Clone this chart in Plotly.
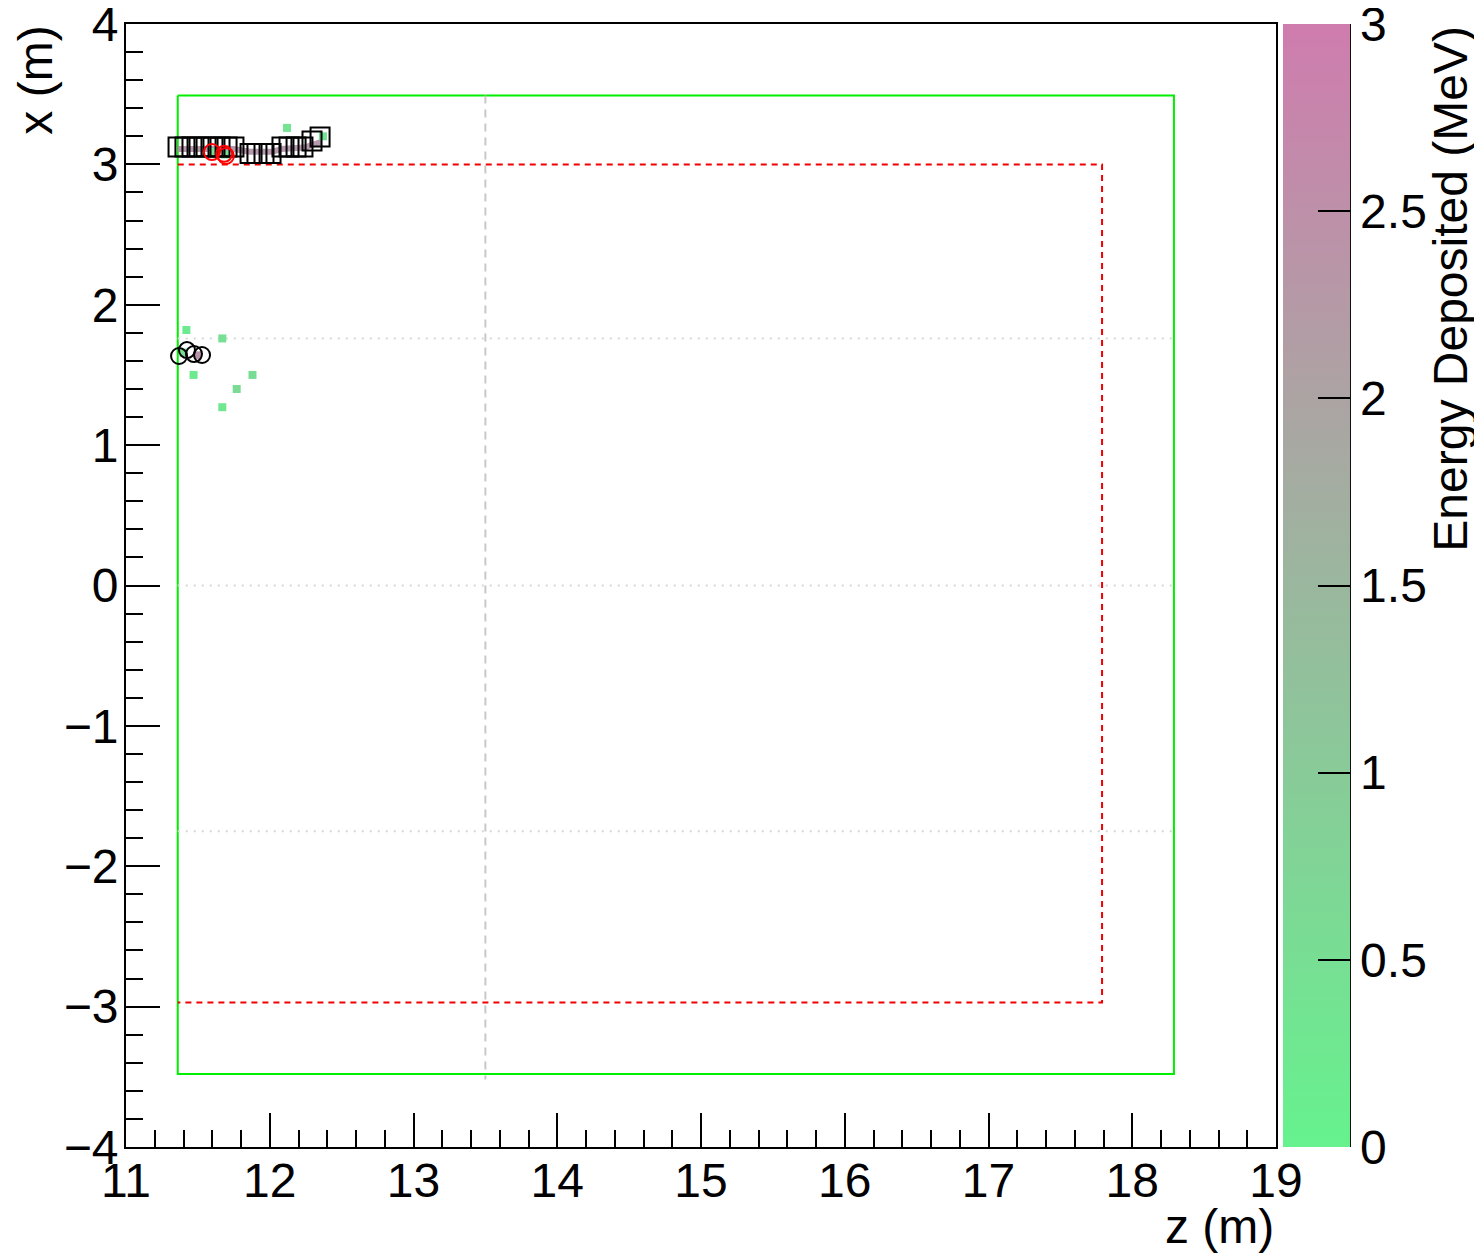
import plotly.graph_objects as go

# ---- data (z, x in metres) ----
green_box_z = [11.36, 18.29, 18.29, 11.36, 11.36]
green_box_x = [3.49, 3.49, -3.48, -3.48, 3.49]
red_box_z = [11.36, 17.79, 17.79, 11.36]
red_box_x = [3.0, 3.0, -2.97, -2.97]
gray_vline_z = [13.5, 13.5]
gray_vline_x = [3.49, -3.52]
gray_hline_z = [11.36, 18.29]
gray_hline_x = [1.76, 0.0, -1.75]

track_z = [11.36, 11.75, 11.86, 12.02, 12.08, 12.24, 12.36]
track_x = [3.11, 3.11, 3.09, 3.09, 3.11, 3.12, 3.16]

hit_z = [12.12, 12.37, 11.42, 11.67, 11.47, 11.88, 11.77, 11.67, 11.60, 11.69, 11.40, 11.50]
hit_x = [3.26, 3.20, 1.82, 1.76, 1.50, 1.50, 1.40, 1.27, 3.09, 3.07, 1.66, 1.64]
hit_e = [0.35, 0.4, 0.2, 0.45, 0.2, 0.55, 0.6, 0.3, 0.5, 0.45, 0.6, 2.4]

square_z = [11.362, 11.410, 11.459, 11.508, 11.557, 11.605, 11.654, 11.703, 11.751,
            11.863, 11.911, 11.960, 12.009,
            12.085, 12.134, 12.183, 12.231, 12.294, 12.350]
square_x = [3.124] * 9 + [3.077] * 4 + [3.124] * 4 + [3.167, 3.195]

black_circle_z = [11.369, 11.424, 11.473, 11.529]
black_circle_x = [1.635, 1.677, 1.649, 1.642]
red_circle_z = [11.598, 11.683, 11.695]
red_circle_x = [3.088, 3.075, 3.060]

cbar_ticks = [0, 0.5, 1, 1.5, 2, 2.5, 3]
xticks = list(range(11, 20))
yticks = list(range(-4, 5))

FONT = "Liberation Sans"
FS = 48
colorscale = [[0.0, "rgb(102,242,142)"], [1.0, "rgb(207,124,174)"]]

fig = go.Figure()

fig.add_trace(go.Scatter(x=green_box_z, y=green_box_x, mode="lines",
                         line=dict(color="rgb(0,238,0)", width=2), hoverinfo="skip"))
fig.add_trace(go.Scatter(x=red_box_z, y=red_box_x, mode="lines",
                         line=dict(color="rgb(240,0,0)", width=2, dash="6px,5px"), hoverinfo="skip"))
fig.add_trace(go.Scatter(x=gray_vline_z, y=gray_vline_x, mode="lines",
                         line=dict(color="rgb(200,200,200)", width=2, dash="8px,6px"), hoverinfo="skip"))
for hx in gray_hline_x:
    fig.add_trace(go.Scatter(x=gray_hline_z, y=[hx, hx], mode="lines",
                             line=dict(color="rgb(215,215,215)", width=2, dash="2px,6px"), hoverinfo="skip"))

fig.add_trace(go.Scatter(x=track_z, y=track_x, mode="lines",
                         line=dict(color="rgba(170,135,160,0.85)", width=6), hoverinfo="skip"))

fig.add_trace(go.Scatter(
    x=hit_z, y=hit_x, mode="markers",
    marker=dict(symbol="square", size=8, color=hit_e, cmin=0, cmax=3,
                colorscale=colorscale, line=dict(width=0),
                colorbar=dict(
                    x=1.006, xanchor="left", xref="paper", xpad=0, ypad=0,
                    y=0, yanchor="bottom", len=1, lenmode="fraction",
                    thickness=67, thicknessmode="pixels", outlinewidth=0,
                    tickvals=cbar_ticks, ticktext=[str(t) for t in cbar_ticks],
                    ticks="inside", ticklen=32, tickwidth=2, tickcolor="black",
                    ticklabeloverflow="allow",
                    tickfont=dict(family=FONT, size=FS, color="black"))),
    hoverinfo="skip"))

fig.add_trace(go.Scatter(x=square_z, y=square_x, mode="markers",
                         marker=dict(symbol="square-open", size=19, color="black",
                                     line=dict(width=2, color="black")), hoverinfo="skip"))
fig.add_trace(go.Scatter(x=black_circle_z, y=black_circle_x, mode="markers",
                         marker=dict(symbol="circle-open", size=16, color="black",
                                     line=dict(width=2, color="black")), hoverinfo="skip"))
fig.add_trace(go.Scatter(x=red_circle_z, y=red_circle_x, mode="markers",
                         marker=dict(symbol="circle-open", size=16, color="red",
                                     line=dict(width=2, color="red")), hoverinfo="skip"))

axis_common = dict(showgrid=False, zeroline=False, showline=True, linecolor="black",
                   linewidth=2, mirror=True, ticks="inside", tickwidth=2, tickcolor="black",
                   automargin=False, ticklabeloverflow="allow",
                   tickfont=dict(family=FONT, size=FS, color="black"))
fig.update_xaxes(range=[11, 19], tickvals=xticks, ticklen=34, ticklabelstandoff=-10,
                 minor=dict(dtick=0.2, tick0=11, ticks="inside", ticklen=17, tickwidth=2,
                            tickcolor="black", showgrid=False),
                 **axis_common)
fig.update_yaxes(range=[-4, 4], tickvals=yticks, ticklen=34, ticklabelstandoff=-4,
                 minor=dict(dtick=0.2, tick0=-4, ticks="inside", ticklen=17, tickwidth=2,
                            tickcolor="black", showgrid=False),
                 **axis_common)

fig.add_shape(type="line", xref="paper", yref="paper", x0=1.0643, x1=1.0643, y0=0, y1=1,
              line=dict(color="black", width=2))

fig.add_annotation(text="x (m)", xref="paper", yref="paper", x=-0.079, y=1.0,
                   xanchor="center", yanchor="top", textangle=-90, showarrow=False,
                   font=dict(family=FONT, size=FS, color="black"))
fig.add_annotation(text="z (m)", xref="paper", yref="paper", x=1.0, y=-0.071,
                   xanchor="right", yanchor="middle", showarrow=False,
                   font=dict(family=FONT, size=FS, color="black"))
fig.add_annotation(text="Energy Deposited (MeV)", xref="paper", yref="paper", x=1.151, y=1.0,
                   xanchor="center", yanchor="top", textangle=-90, showarrow=False,
                   font=dict(family=FONT, size=FS, color="black"))

# page body has an 8px margin, so the figure is 8px smaller and offsets reduced by 8
fig.update_layout(width=1474, height=1246, showlegend=False,
                  margin=dict(l=118, r=206, t=16, b=107, autoexpand=False),
                  plot_bgcolor="white", paper_bgcolor="white")

fig.write_html("out.html")
